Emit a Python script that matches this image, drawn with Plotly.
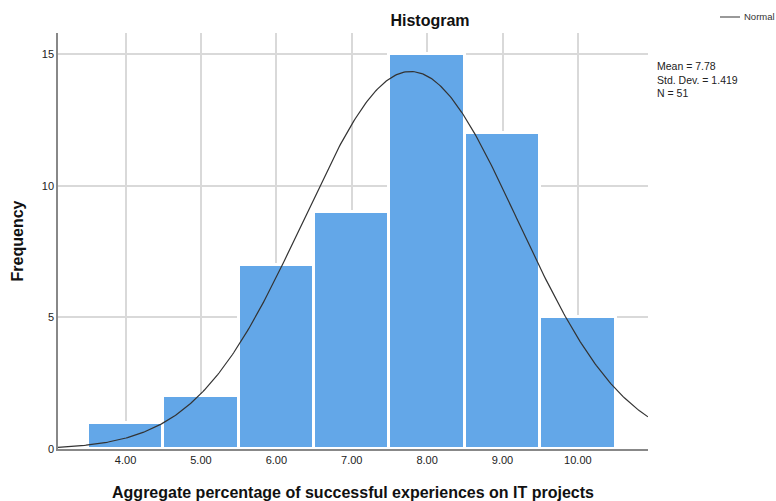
import numpy as np
import plotly.graph_objects as go

# Data
bin_centers = [4.0, 5.0, 6.0, 7.0, 8.0, 9.0, 10.0]
frequencies = [1, 2, 7, 9, 15, 12, 5]
tick_vals = [4, 5, 6, 7, 8, 9, 10]
tick_text = ["4.00", "5.00", "6.00", "7.00", "8.00", "9.00", "10.00"]
mean_val = 7.78
std_val = 1.419
n_val = 51
bin_width = 1.0
curve_name = "Normal"

x_range = [3.104, 10.93]
y_range = [0, 15.8]

xs = np.linspace(x_range[0], x_range[1], 400)
ys = n_val * bin_width / (std_val * np.sqrt(2 * np.pi)) * np.exp(-0.5 * ((xs - mean_val) / std_val) ** 2)

font_family = "Arial, Liberation Sans, sans-serif"

W, H = 776, 501
L, R, T, B = 58, 776 - 648, 33, 501 - 449
PW, PH = W - L - R, H - T - B

def px_x(x):  # window pixel -> paper x
    return (x - L) / PW

def px_y(y):  # window pixel -> paper y
    return (H - B - y) / PH

fig = go.Figure()
fig.add_trace(go.Bar(
    x=bin_centers, y=frequencies, width=bin_width,
    marker=dict(color="#63A7E8", line=dict(color="white", width=3)),
    showlegend=False, hoverinfo="x+y",
))
fig.add_trace(go.Scatter(
    x=xs, y=ys, mode="lines", name=curve_name,
    line=dict(color="#333333", width=1.2), showlegend=False,
))

fig.update_layout(
    width=W, height=H,
    margin=dict(l=L, r=R, t=T, b=B, autoexpand=False),
    plot_bgcolor="white", paper_bgcolor="white",
    font=dict(family=font_family, color="#222222", size=11),
    title=dict(text="<b>Histogram</b>", x=430 / W, xanchor="center", y=1 - 20 / H,
               yanchor="middle", font=dict(size=16, color="#111111")),
    bargap=0,
    showlegend=False,
)
fig.update_xaxes(
    range=x_range, tickvals=tick_vals, ticktext=tick_text,
    showgrid=True, gridcolor="#d9d9d9", gridwidth=1.5,
    showline=True, linecolor="#888888", linewidth=1.5,
    ticks="", zeroline=False, automargin=False,
    title=dict(text="<b>Aggregate percentage of successful experiences on IT projects</b>",
               font=dict(size=16, color="#111111"), standoff=22),
    tickfont=dict(size=11, color="#222222"),
)
fig.update_yaxes(
    range=y_range, tickvals=[0, 5, 10, 15],
    showgrid=True, gridcolor="#d9d9d9", gridwidth=1.5,
    showline=True, linecolor="#888888", linewidth=1.5,
    ticks="", zeroline=False, automargin=False,
    title=dict(text="<b>Frequency</b>", font=dict(size=16, color="#111111"), standoff=14),
    tickfont=dict(size=11, color="#222222"),
)
# legend (drawn manually so it sits at the page edge like the original)
fig.add_shape(type="line", xref="paper", yref="paper",
              x0=px_x(720), x1=px_x(740), y0=px_y(17), y1=px_y(17),
              line=dict(color="#555555", width=1.2))
fig.add_annotation(
    x=px_x(742), xref="paper", y=px_y(17), yref="paper", xanchor="left", yanchor="middle",
    showarrow=False, text=curve_name, font=dict(size=9.5, color="#333333"),
)
fig.add_annotation(
    x=px_x(655), xref="paper", y=px_y(58), yref="paper", xanchor="left", yanchor="top",
    showarrow=False, align="left",
    text=f"Mean = {mean_val:.2f}<br>Std. Dev. = {std_val:.3f}<br>N = {n_val}",
    font=dict(size=10.5, color="#222222"),
)
fig.write_html(
    "out.html",
    config={"displayModeBar": False},
    post_script="document.body.style.margin='0';document.body.style.overflow='hidden';",
)
